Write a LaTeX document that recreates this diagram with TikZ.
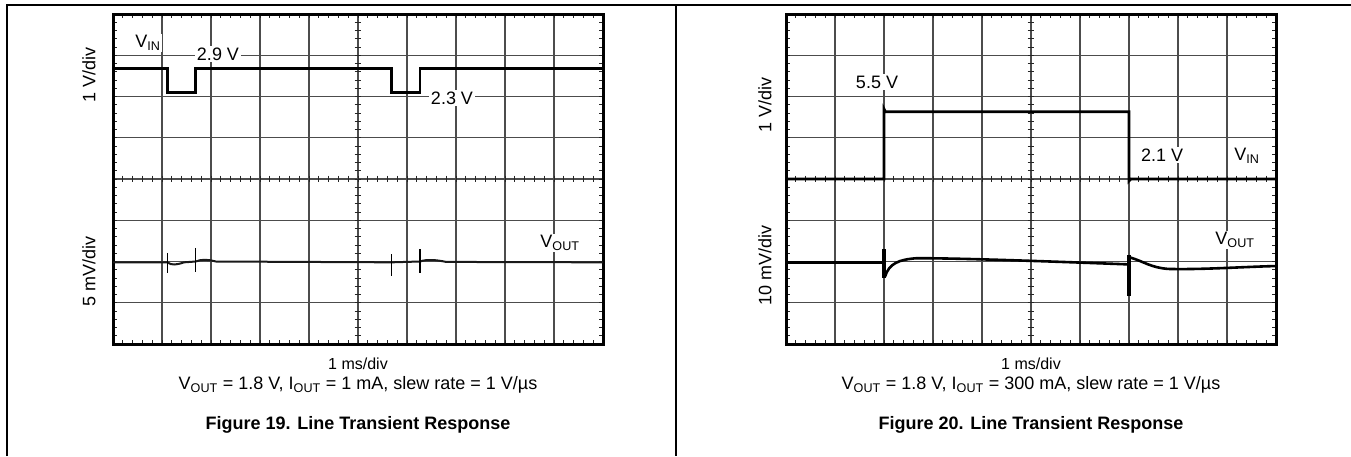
\documentclass[tikz,border=0pt]{standalone}
\usepackage{fontspec}
\setmainfont{Liberation Sans}

\tikzset{
  gridline/.style={black!70,line width=1.1pt},
  tickline/.style={black!85,line width=0.9pt},
  scopeframe/.style={black,line width=3pt},
  trace/.style={black,line width=2.6pt,line join=miter},
  thintrace/.style={black!90,line width=2pt},
  spike/.style={black,line width=1.4pt},
  bigspike/.style={black,line width=3.6pt},
  lbl/.style={inner sep=1.5pt,fill=white,font=\fontsize{18}{20}\selectfont},
  axislbl/.style={rotate=90,inner sep=0pt,font=\fontsize{18}{20}\selectfont},
  timelbl/.style={inner sep=0pt,font=\fontsize{16}{18}\selectfont},
  condlbl/.style={inner sep=0pt,font=\fontsize{18}{20}\selectfont},
  figlbl/.style={inner sep=0pt,font=\fontsize{18}{20}\selectfont\bfseries}
}

\newcommand{\scopegrid}{%
  \foreach \i in {1,...,9} \draw[gridline] (\i,0) -- (\i,8);
  \foreach \j in {1,...,7} \draw[gridline] (0,\j) -- (10,\j);
  \foreach \t in {0.2,0.4,...,9.9} {
    \draw[tickline] (\t,0) -- (\t,0.1);
    \draw[tickline] (\t,8) -- (\t,7.9);
    \draw[tickline] (\t,3.92) -- (\t,4.08);
  }
  \foreach \t in {0.2,0.4,...,7.9} {
    \draw[tickline] (0,\t) -- (0.08,\t);
    \draw[tickline] (10,\t) -- (9.92,\t);
    \draw[tickline] (4.93,\t) -- (5.07,\t);
  }
  \draw[scopeframe] (0,0) rectangle (10,8);
}

\begin{document}
\begin{tikzpicture}[x=1pt,y=1pt]
\useasboundingbox (0,0) rectangle (1351,-456);
\draw [black,line width=1.2pt] (7,-456) -- (7,-5) -- (1351,-5);
\draw [black,line width=1.2pt] (676,-5) -- (676,-456);

\begin{scope}[shift={(113pt,-14pt)},x=49pt,y=-41.25pt]
\scopegrid
\end{scope}
\begin{scope}[shift={(786pt,-14pt)},x=49pt,y=-41.25pt]
\scopegrid
\end{scope}

\node [lbl] (vinA) at (148,-43) {V\textsubscript{IN}};
\node [lbl] (hiA) at (218,-54) {2.9 V};
\node [lbl] (loA) at (452,-98) {2.3 V};
\node [lbl] (voutA) at (560,-243) {V\textsubscript{OUT}};
\node [lbl] (hiB) at (877,-82) {5.5 V};
\node [lbl] (loB) at (1162,-155) {2.1 V};
\node [lbl] (vinB) at (1247,-156) {V\textsubscript{IN}};
\node [lbl] (voutB) at (1235,-240) {V\textsubscript{OUT}};

\begin{scope}[shift={(113pt,-14pt)},x=49pt,y=-41.25pt]
\draw [trace] (0,1.316) -- (1.108,1.316) -- (1.108,1.9) -- (1.688,1.9) -- (1.688,1.316) -- (5.688,1.316) -- (5.688,1.9) -- (6.265,1.9) -- (6.265,1.316) -- (10,1.316);
\draw [thintrace] (0,6.02) -- (1.108,6.02) .. controls (1.2,6.1) and (1.3,6.08) .. (1.45,6.02) -- (1.688,6) .. controls (1.8,5.94) and (1.95,5.95) .. (2.1,6) -- (5.688,6.02) -- (6.265,6) .. controls (6.4,5.94) and (6.6,5.96) .. (6.8,6.01) -- (10,6.02);
\draw [spike] (1.108,5.79) -- (1.108,6.28);
\draw [spike] (1.688,5.67) -- (1.688,6.25);
\draw [spike] (5.688,5.82) -- (5.688,6.34);
\draw [spike] (6.265,5.7) -- (6.265,6.27);
\end{scope}

\begin{scope}[shift={(786pt,-14pt)},x=49pt,y=-41.25pt]
\draw [trace] (0,4) -- (2,4) -- (2,2.3) -- (2.03,2.37) -- (7,2.37) -- (7,4.05) -- (7.04,4) -- (10,4);
\draw [trace] (0,6.02) -- (2,6.02);
\draw [bigspike] (2,5.7) -- (2,6.41);
\draw [trace] (2.02,6.37) .. controls (2.1,6.05) and (2.3,5.95) .. (2.67,5.92) .. controls (3.5,5.92) and (5,5.98) .. (6.99,6.07);
\draw [bigspike] (7,5.84) -- (7,6.84);
\draw [trace] (7.02,5.9) .. controls (7.3,6) and (7.45,6.15) .. (7.8,6.18) .. controls (8.5,6.2) and (9.3,6.13) .. (10,6.11);
\end{scope}

\node [axislbl] (ydivA) at (89,-75) {1 V/div};
\node [axislbl] (ymvA) at (89,-271) {5 mV/div};
\node [axislbl] (ydivB) at (765,-105) {1 V/div};
\node [axislbl] (ymvB) at (765,-265) {10 mV/div};

\node [timelbl] (tdivA) at (358,-364) {1 ms/div};
\node [condlbl] (condA) at (358,-385) {V\textsubscript{OUT} = 1.8 V, I\textsubscript{OUT} = 1 mA, slew rate = 1 V/µs};
\node [figlbl] (figA) at (358,-425) {Figure 19. Line Transient Response};
\node [timelbl] (tdivB) at (1031,-364) {1 ms/div};
\node [condlbl] (condB) at (1031,-385) {V\textsubscript{OUT} = 1.8 V, I\textsubscript{OUT} = 300 mA, slew rate = 1 V/µs};
\node [figlbl] (figB) at (1031,-425) {Figure 20. Line Transient Response};
\end{tikzpicture}
\end{document}
